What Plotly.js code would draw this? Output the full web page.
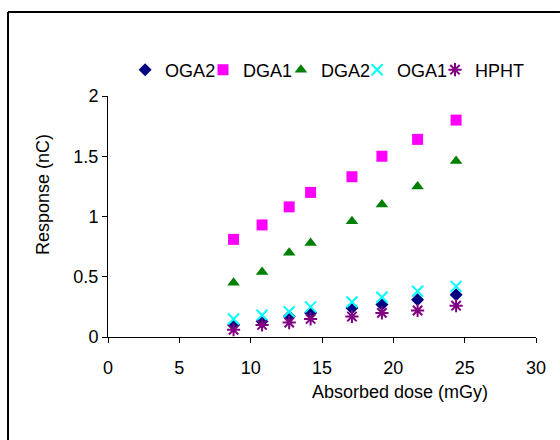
<!DOCTYPE html>
<html>
<head>
<meta charset="utf-8">
<script src="https://cdn.plot.ly/plotly-3.0.1.min.js"></script>
<style>
html,body{margin:0;padding:0;background:#fff;overflow:hidden;}
#chart{width:560px;height:440px;overflow:hidden;}
</style>
</head>
<body>
<div id="chart"></div>
<script>
// Absorbed dose (mGy)
var dose = [8.8, 10.8, 12.7, 14.2, 17.1, 19.2, 21.7, 24.4];
// Response (nC)
var oga2 = [0.10, 0.13, 0.17, 0.20, 0.24, 0.27, 0.31, 0.35];
var dga1 = [0.81, 0.93, 1.08, 1.20, 1.33, 1.50, 1.64, 1.80];
var dga2 = [0.45, 0.54, 0.70, 0.78, 0.96, 1.10, 1.25, 1.46];
var oga1 = [0.15, 0.18, 0.21, 0.25, 0.29, 0.33, 0.38, 0.42];
var hpht = [0.06, 0.10, 0.12, 0.15, 0.17, 0.20, 0.22, 0.26];

var seriesNames = ["OGA2", "DGA1", "DGA2", "OGA1", "HPHT"];
var seriesValues = [oga2, dga1, dga2, oga1, hpht];
var seriesStyles = [
  {symbol: "diamond", color: "#000080", size: 10},
  {symbol: "square", color: "#FF00FF", size: 11},
  {symbol: "triangle-up", color: "#008000", size: 11},
  {symbol: "x-thin-open", color: "#00FFFF", size: 11, line: 2},
  {symbol: "asterisk-open", color: "#800080", size: 11, line: 2}
];
var legendIds = ["legend", "legend2", "legend3", "legend4", "legend5"];
var legendX = [0.04, 0.222, 0.404, 0.582, 0.764];

var font = "Liberation Sans, Arial, sans-serif";

var traces = seriesNames.map(function (name, i) {
  var s = seriesStyles[i];
  var m = {symbol: s.symbol, color: s.color, size: s.size};
  if (s.line) { m.line = {color: s.color, width: s.line}; }
  else { m.line = {width: 0}; }
  return {x: dose, y: seriesValues[i], name: name, type: "scatter", mode: "markers",
          marker: m, cliponaxis: false, legend: legendIds[i], showlegend: true};
});

var layout = {
  width: 560, height: 440,
  margin: {l: 108, r: 24, t: 96, b: 103},
  paper_bgcolor: "#fff", plot_bgcolor: "#fff",
  font: {family: font, size: 18, color: "#000"},
  showlegend: true,
  xaxis: {
    range: [0, 30], tickvals: [0, 5, 10, 15, 20, 25, 30],
    showgrid: false, zeroline: false, showline: true, linecolor: "#000", linewidth: 1,
    ticks: "outside", ticklen: 5, tickcolor: "#000", tickfont: {family: font, size: 18},
    ticklabelstandoff: 9
  },
  yaxis: {
    range: [0, 2], tickvals: [0, 0.5, 1, 1.5, 2],
    showgrid: false, zeroline: false, showline: true, linecolor: "#000", linewidth: 1,
    ticks: "outside", ticklen: 5, tickcolor: "#000", tickfont: {family: font, size: 18}
  },
  annotations: [
    {text: "Response (nC)", xref: "paper", yref: "paper", x: -0.152, y: 0.593,
     textangle: -90, showarrow: false, xanchor: "center", yanchor: "middle",
     font: {family: font, size: 18, color: "#000"}},
    {text: "Absorbed dose (mGy)", xref: "paper", yref: "paper", x: 0.682, y: -0.228,
     showarrow: false, xanchor: "center", yanchor: "middle",
     font: {family: font, size: 18, color: "#000"}}
  ],
  shapes: [
    {type: "line", xref: "paper", yref: "paper", x0: -0.2336, x1: 1.056, y0: 1.3485, y1: 1.3485,
     line: {color: "#000", width: 2}, layer: "below"},
    {type: "line", xref: "paper", yref: "paper", x0: -0.2336, x1: -0.2336, y0: -0.427, y1: 1.3485,
     line: {color: "#000", width: 2}, layer: "below"}
  ]
};

legendIds.forEach(function (id, i) {
  layout[id] = {
    orientation: "h", x: legendX[i], xanchor: "left", y: 1.108, yanchor: "middle",
    font: {family: font, size: 18, color: "#000"}, bgcolor: "rgba(0,0,0,0)", itemwidth: 30
  };
});

Plotly.newPlot("chart", traces, layout, {displayModeBar: false, staticPlot: true});
</script>
</body>
</html>
